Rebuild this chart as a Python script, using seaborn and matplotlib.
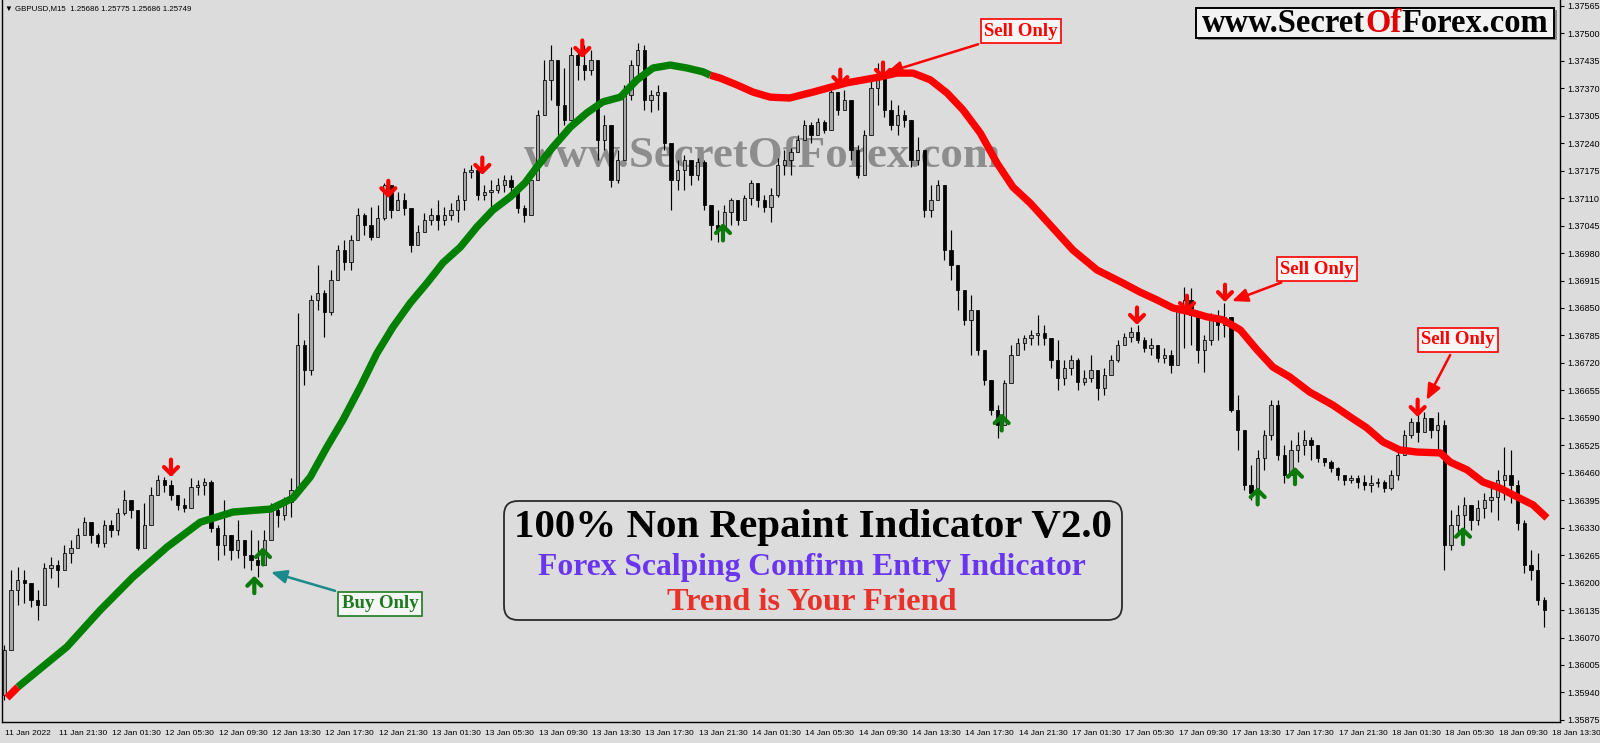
import numpy as np
import pandas as pd
import matplotlib
matplotlib.use("Agg")
import matplotlib.pyplot as plt
import seaborn as sns
from matplotlib.patches import FancyBboxPatch, Rectangle
from matplotlib.transforms import IdentityTransform, offset_copy

# ---------------- data (GBPUSD, 30-minute candles) ----------------
first_open = 1.35934
close = [
    1.36040, 1.36183, 1.36206, 1.36199, 1.36159, 1.36147, 1.36235, 1.36242, 1.36230, 1.36270,
    1.36282, 1.36313, 1.36343, 1.36313, 1.36294, 1.36336, 1.36325, 1.36365, 1.36396, 1.36372,
    1.36282, 1.36336, 1.36407, 1.36443, 1.36431, 1.36407, 1.36384, 1.36377, 1.36426, 1.36431,
    1.36438, 1.36329, 1.36289, 1.36313, 1.36277, 1.36301, 1.36265, 1.36254, 1.36242, 1.36301,
    1.36372, 1.36360, 1.36391, 1.36419, 1.36762, 1.36703, 1.36869, 1.36886, 1.36841, 1.36916,
    1.36987, 1.36959, 1.37011, 1.37070, 1.37046, 1.37018, 1.37063, 1.37141, 1.37082, 1.37106,
    1.37087, 1.36999, 1.37030, 1.37058, 1.37070, 1.37058, 1.37070, 1.37082, 1.37106, 1.37172,
    1.37177, 1.37117, 1.37125, 1.37129, 1.37141, 1.37153, 1.37136, 1.37087, 1.37070, 1.37153,
    1.37307, 1.37390, 1.37437, 1.37330, 1.37295, 1.37449, 1.37425, 1.37413, 1.37437, 1.37248,
    1.37283, 1.37153, 1.37200, 1.37354, 1.37425, 1.37461, 1.37342, 1.37354, 1.37361, 1.37240,
    1.37153, 1.37177, 1.37200, 1.37165, 1.37196, 1.37094, 1.37046, 1.37035, 1.37077, 1.37106,
    1.37058, 1.37110, 1.37146, 1.37106, 1.37089, 1.37117, 1.37188, 1.37200, 1.37219, 1.37248,
    1.37283, 1.37259, 1.37290, 1.37271, 1.37361, 1.37319, 1.37342, 1.37224, 1.37165, 1.37259,
    1.37371, 1.37401, 1.37319, 1.37283, 1.37307, 1.37295, 1.37200, 1.37224, 1.37082, 1.37106,
    1.37141, 1.36987, 1.36952, 1.36893, 1.36822, 1.36845, 1.36751, 1.36680, 1.36609, 1.36573,
    1.36672, 1.36739, 1.36767, 1.36779, 1.36786, 1.36791, 1.36779, 1.36727, 1.36684, 1.36708,
    1.36727, 1.36675, 1.36684, 1.36703, 1.36661, 1.36691, 1.36727, 1.36762, 1.36781, 1.36793,
    1.36774, 1.36755, 1.36762, 1.36732, 1.36739, 1.36715, 1.36845, 1.36869, 1.36833, 1.36751,
    1.36774, 1.36822, 1.36810, 1.36829, 1.36609, 1.36561, 1.36431, 1.36412, 1.36495, 1.36549,
    1.36620, 1.36502, 1.36455, 1.36514, 1.36526, 1.36538, 1.36526, 1.36495, 1.36485, 1.36471,
    1.36455, 1.36443, 1.36448, 1.36438, 1.36431, 1.36436, 1.36438, 1.36424, 1.36455, 1.36502,
    1.36549, 1.36580, 1.36556, 1.36590, 1.36561, 1.36573, 1.36289, 1.36336, 1.36360, 1.36384,
    1.36348, 1.36377, 1.36396, 1.36403, 1.36443, 1.36455, 1.36431, 1.36341, 1.36242, 1.36230,
    1.36159, 1.36135,
]
high = [
    1.36052, 1.36230, 1.36237, 1.36230, 1.36199, 1.36183, 1.36246, 1.36261, 1.36254, 1.36289,
    1.36301, 1.36329, 1.36355, 1.36336, 1.36317, 1.36348, 1.36348, 1.36377, 1.36419, 1.36384,
    1.36360, 1.36388, 1.36426, 1.36455, 1.36450, 1.36443, 1.36407, 1.36400, 1.36448, 1.36443,
    1.36448, 1.36443, 1.36336, 1.36396, 1.36313, 1.36348, 1.36301, 1.36325, 1.36301, 1.36325,
    1.36388, 1.36384, 1.36403, 1.36448, 1.36838, 1.36774, 1.36881, 1.36952, 1.36893, 1.36940,
    1.36999, 1.37011, 1.37023, 1.37087, 1.37075, 1.37089, 1.37094, 1.37146, 1.37117, 1.37125,
    1.37122, 1.37082, 1.37046, 1.37075, 1.37087, 1.37106, 1.37089, 1.37098, 1.37117, 1.37181,
    1.37188, 1.37172, 1.37141, 1.37153, 1.37158, 1.37165, 1.37165, 1.37141, 1.37094, 1.37165,
    1.37319, 1.37437, 1.37473, 1.37425, 1.37418, 1.37468, 1.37461, 1.37473, 1.37461, 1.37437,
    1.37307, 1.37283, 1.37224, 1.37378, 1.37437, 1.37477, 1.37473, 1.37366, 1.37378, 1.37354,
    1.37224, 1.37200, 1.37212, 1.37188, 1.37205, 1.37200, 1.37094, 1.37082, 1.37094, 1.37110,
    1.37070, 1.37117, 1.37153, 1.37141, 1.37117, 1.37134, 1.37205, 1.37224, 1.37229, 1.37259,
    1.37295, 1.37290, 1.37300, 1.37295, 1.37366, 1.37354, 1.37366, 1.37330, 1.37236, 1.37271,
    1.37390, 1.37430, 1.37413, 1.37342, 1.37330, 1.37319, 1.37283, 1.37255, 1.37188, 1.37141,
    1.37153, 1.37094, 1.37035, 1.36940, 1.36881, 1.36881, 1.36833, 1.36739, 1.36668, 1.36620,
    1.36680, 1.36762, 1.36779, 1.36786, 1.36798, 1.36833, 1.36810, 1.36774, 1.36774, 1.36727,
    1.36739, 1.36732, 1.36703, 1.36739, 1.36703, 1.36708, 1.36739, 1.36774, 1.36791, 1.36805,
    1.36810, 1.36781, 1.36779, 1.36762, 1.36755, 1.36751, 1.36857, 1.36900, 1.36897, 1.36822,
    1.36786, 1.36838, 1.36845, 1.36862, 1.36822, 1.36644, 1.36514, 1.36478, 1.36514, 1.36561,
    1.36632, 1.36632, 1.36526, 1.36538, 1.36556, 1.36561, 1.36545, 1.36514, 1.36495, 1.36490,
    1.36474, 1.36455, 1.36455, 1.36455, 1.36455, 1.36455, 1.36448, 1.36443, 1.36467, 1.36514,
    1.36561, 1.36590, 1.36604, 1.36604, 1.36590, 1.36604, 1.36585, 1.36372, 1.36384, 1.36403,
    1.36384, 1.36396, 1.36412, 1.36426, 1.36467, 1.36521, 1.36514, 1.36443, 1.36348, 1.36277,
    1.36270, 1.36166,
]
low = [
    1.35922, 1.36040, 1.36147, 1.36152, 1.36142, 1.36112, 1.36159, 1.36211, 1.36190, 1.36246,
    1.36246, 1.36289, 1.36320, 1.36294, 1.36284, 1.36284, 1.36308, 1.36313, 1.36360, 1.36353,
    1.36277, 1.36317, 1.36360, 1.36419, 1.36414, 1.36396, 1.36372, 1.36367, 1.36396, 1.36407,
    1.36407, 1.36320, 1.36254, 1.36265, 1.36254, 1.36258, 1.36235, 1.36230, 1.36213, 1.36254,
    1.36325, 1.36332, 1.36348, 1.36355, 1.36419, 1.36668, 1.36691, 1.36845, 1.36781, 1.36833,
    1.36933, 1.36940, 1.36940, 1.37011, 1.37023, 1.37011, 1.37035, 1.37058, 1.37063, 1.37082,
    1.37070, 1.36983, 1.36999, 1.37035, 1.37046, 1.37035, 1.37046, 1.37058, 1.37054, 1.37082,
    1.37158, 1.37106, 1.37106, 1.37089, 1.37122, 1.37125, 1.37117, 1.37075, 1.37054, 1.37094,
    1.37224, 1.37307, 1.37342, 1.37259, 1.37283, 1.37354, 1.37390, 1.37390, 1.37401, 1.37200,
    1.37224, 1.37136, 1.37146, 1.37295, 1.37342, 1.37390, 1.37319, 1.37314, 1.37319, 1.37224,
    1.37082, 1.37129, 1.37129, 1.37141, 1.37153, 1.37082, 1.37011, 1.37006, 1.37030, 1.37046,
    1.37046, 1.37070, 1.37094, 1.37089, 1.37077, 1.37054, 1.37113, 1.37165, 1.37165, 1.37224,
    1.37248, 1.37240, 1.37259, 1.37264, 1.37283, 1.37307, 1.37319, 1.37200, 1.37158, 1.37224,
    1.37302, 1.37330, 1.37302, 1.37271, 1.37259, 1.37278, 1.37184, 1.37188, 1.37065, 1.37065,
    1.37106, 1.36964, 1.36916, 1.36845, 1.36810, 1.36739, 1.36739, 1.36668, 1.36597, 1.36542,
    1.36620, 1.36691, 1.36739, 1.36751, 1.36762, 1.36762, 1.36762, 1.36708, 1.36656, 1.36668,
    1.36691, 1.36656, 1.36668, 1.36675, 1.36632, 1.36644, 1.36698, 1.36722, 1.36762, 1.36770,
    1.36767, 1.36746, 1.36739, 1.36722, 1.36720, 1.36696, 1.36755, 1.36755, 1.36762, 1.36720,
    1.36698, 1.36762, 1.36774, 1.36781, 1.36604, 1.36514, 1.36419, 1.36396, 1.36396, 1.36467,
    1.36538, 1.36490, 1.36436, 1.36467, 1.36485, 1.36502, 1.36490, 1.36485, 1.36476, 1.36462,
    1.36443, 1.36431, 1.36436, 1.36424, 1.36419, 1.36414, 1.36426, 1.36414, 1.36419, 1.36443,
    1.36514, 1.36542, 1.36533, 1.36556, 1.36542, 1.36514, 1.36230, 1.36277, 1.36313, 1.36325,
    1.36325, 1.36336, 1.36353, 1.36367, 1.36348, 1.36396, 1.36388, 1.36325, 1.36223, 1.36206,
    1.36147, 1.36095,
]

# trend line (candle position, price) and the two colour switch positions
ma_idx = [0.4, 2.05, 9.4, 14.4, 19.3, 24.4, 29.4, 34.3, 39.9, 43.3,
          45.9, 48.4, 50.8, 53.4, 55.9, 58.3, 60.9, 63.4, 65.8, 68.4,
          70.9, 73.3, 75.9, 78.1, 79.9, 82.3, 84.9, 87.4, 89.8, 92.4,
          94.9, 97.3, 99.9, 102.4, 104.8, 105.9, 107.4, 109.9, 112.3, 114.9,
          117.8, 121.3, 126.4, 131.4, 133.9, 136.3, 138.9, 141.4, 143.8, 146.4,
          148.9, 151.3, 153.9, 156.9, 160.3, 163.9, 167.8, 170.3, 172.9, 175.3,
          177.8, 180.4, 182.8, 185.4, 187.9, 190.3, 192.8, 195.8, 199.3, 201.9,
          204.4, 206.8, 209.3, 211.9, 215.4, 216.9, 219.4, 221.8, 224.3, 226.9,
          229.3, 231.4]
ma_val = [1.35927, 1.35953, 1.36048, 1.36135, 1.36213, 1.36284, 1.36343, 1.36367, 1.36374, 1.36400,
          1.36450, 1.36521, 1.36585, 1.36663, 1.36743, 1.36805, 1.36862, 1.36909, 1.36957, 1.36994,
          1.37042, 1.37082, 1.37113, 1.37146, 1.37184, 1.37231, 1.37278, 1.37312, 1.37338, 1.37349,
          1.37390, 1.37418, 1.37425, 1.37418, 1.37409, 1.37401, 1.37394, 1.37378, 1.37361, 1.37349,
          1.37347, 1.37361, 1.37383, 1.37397, 1.37406, 1.37406, 1.37390, 1.37359, 1.37319, 1.37264,
          1.37193, 1.37136, 1.37098, 1.37046, 1.36987, 1.36940, 1.36909, 1.36888, 1.36869, 1.36850,
          1.36841, 1.36829, 1.36822, 1.36798, 1.36751, 1.36710, 1.36687, 1.36651, 1.36620, 1.36592,
          1.36566, 1.36533, 1.36514, 1.36509, 1.36507, 1.36485, 1.36467, 1.36438, 1.36424, 1.36403,
          1.36384, 1.36353]
ma_switch = [2.05, 105.9]

# signal arrows (candle position, price at the arrow tip)
sell_idx = [25.0, 57.6, 71.7, 86.7, 125.4, 131.8, 169.9, 177.4, 183.1, 212.0]
sell_price = [1.36450, 1.37110, 1.37165, 1.37442, 1.37373, 1.37390, 1.36810, 1.36838, 1.36864, 1.36592]
buy_idx = [37.5, 38.8, 107.8, 149.6, 188.0, 193.6, 218.8]
buy_price = [1.36216, 1.36284, 1.37051, 1.36601, 1.36426, 1.36474, 1.36332]

tick_labels = ["11 Jan 2022", "11 Jan 21:30", "12 Jan 01:30", "12 Jan 05:30", "12 Jan 09:30",
               "12 Jan 13:30", "12 Jan 17:30", "12 Jan 21:30", "13 Jan 01:30", "13 Jan 05:30",
               "13 Jan 09:30", "13 Jan 13:30", "13 Jan 17:30", "13 Jan 21:30", "14 Jan 01:30",
               "14 Jan 05:30", "14 Jan 09:30", "14 Jan 13:30", "14 Jan 17:30", "14 Jan 21:30",
               "17 Jan 01:30", "17 Jan 05:30", "17 Jan 09:30", "17 Jan 13:30", "17 Jan 17:30",
               "17 Jan 21:30", "18 Jan 01:30", "18 Jan 05:30", "18 Jan 09:30", "18 Jan 13:30"]
candles_per_label = 8
price_ticks = [1.35875, 1.35940, 1.36005, 1.36070, 1.36135, 1.36200, 1.36265, 1.36330, 1.36395,
               1.36460, 1.36525, 1.36590, 1.36655, 1.36720, 1.36785, 1.36850, 1.36915, 1.36980,
               1.37045, 1.37110, 1.37175, 1.37240, 1.37305, 1.37370, 1.37435, 1.37500, 1.37565]

header = "\u25BC GBPUSD,M15  1.25686 1.25775 1.25686 1.25749"
site = "www.SecretOfForex.com"
title_lines = ["100% Non Repaint Indicator V2.0",
               "Forex Scalping Confirm Entry Indicator",
               "Trend is Your Friend"]

assert len(close) == len(high) == len(low)
assert len(ma_idx) == len(ma_val)

# ---------------- style ----------------
sns.set_theme(style="white")
plt.rcParams['font.family'] = ['Liberation Sans', 'DejaVu Sans']

W, H, DPI = 1600, 743, 100
BG = '#dcdcdc'
RED = '#ff0000'
GREEN = '#008000'
ID = IdentityTransform()

fig = plt.figure(figsize=(W / DPI, H / DPI), dpi=DPI, facecolor=BG)
ax = fig.add_axes([2 / W, 21 / H, 1558 / W, 722 / H])
ax.set_facecolor(BG)

# ---------------- candles ----------------
c = np.array(close)
o = np.concatenate([[first_open], c[:-1]])
hi = np.array(high)
lo = np.array(low)
pos = np.arange(len(c))
up = c >= o
bot = np.minimum(o, c)
top = np.maximum(o, c)
bh = np.maximum(top - bot, 0.00003)
ax.vlines(pos, np.minimum(lo, bot), np.maximum(hi, top), color='black', lw=0.85, zorder=2)
ax.bar(pos[up], bh[up], bottom=bot[up], width=0.5, color='#a6a6a6',
       edgecolor='black', linewidth=0.55, zorder=3)
ax.bar(pos[~up], bh[~up], bottom=bot[~up], width=0.5, color='black',
       edgecolor='black', linewidth=0.55, zorder=3)

# ---------------- trend line ----------------
ma = pd.DataFrame({'idx': ma_idx, 'val': ma_val})
segments = [(ma_idx[0], ma_switch[0], RED), (ma_switch[0], ma_switch[1], GREEN),
            (ma_switch[1], ma_idx[-1], RED)]
for a, b, col in segments:
    d = ma[(ma['idx'] >= a) & (ma['idx'] <= b)]
    sns.lineplot(data=d, x='idx', y='val', color=col, linewidth=5.3, ax=ax, sort=False,
                 estimator=None, legend=False, zorder=4, solid_capstyle='butt')

# ---------------- signal arrows ----------------
for i, p in zip(sell_idx, sell_price):
    ax.annotate('', xy=(i, p), xytext=(0, 12.5), textcoords='offset points',
                arrowprops=dict(arrowstyle='->,head_width=0.42,head_length=0.42', color=RED,
                                lw=3.0, shrinkA=0, shrinkB=0), zorder=6)
for i, p in zip(buy_idx, buy_price):
    ax.annotate('', xy=(i, p), xytext=(0, -12.5), textcoords='offset points',
                arrowprops=dict(arrowstyle='->,head_width=0.42,head_length=0.42', color='#0b7a0b',
                                lw=3.0, shrinkA=0, shrinkB=0), zorder=6)

# ---------------- axes ----------------
ax.set_xlim(-0.345, 233.35)
ax.set_ylim(1.35870, 1.37579)
ax.set_xlabel('')
ax.set_ylabel('')
ax.set_xticks(np.arange(len(tick_labels)) * candles_per_label)
ax.set_xticklabels(tick_labels, fontsize=6, ha='left')
ax.set_yticks(price_ticks)
ax.set_yticklabels([f"{v:.5f}" for v in price_ticks], fontsize=6.5)
ax.yaxis.tick_right()
ax.tick_params(axis='x', direction='out', length=4, width=0.8, pad=2, colors='black')
ax.tick_params(axis='y', direction='out', length=3, width=0.8, pad=2, colors='black')
for lbl in ax.get_xticklabels():
    lbl.set_transform(lbl.get_transform() + matplotlib.transforms.Affine2D().translate(1, 0))
for s in ['left', 'right', 'bottom']:
    ax.spines[s].set_visible(True)
    ax.spines[s].set_color('black')
    ax.spines[s].set_linewidth(1.0)
ax.spines['top'].set_visible(False)

# ---------------- texts ----------------
SERIF = ['Liberation Serif', 'DejaVu Serif']

wm = ax.text(763, H - 156, site, transform=ID, ha='center', va='center', family=SERIF,
             fontweight='bold', fontsize=30, color='#808080', alpha=0.85, zorder=1)

hdr = fig.text(5, H - 9, header, transform=ID, ha='left', va='center', fontsize=6.5,
               family=['Liberation Sans', 'DejaVu Sans'], color='black')

# central box
fig.add_artist(FancyBboxPatch((504, H - 620), 618, 119,
                              boxstyle='round,pad=0,rounding_size=14', transform=ID,
                              fc='none', ec='#2a2a2a', lw=1.3))
t1 = fig.text(813, H - 527, title_lines[0], transform=ID, ha='center', va='center',
              family=SERIF, fontweight='bold', fontsize=26, color='black')
t2 = fig.text(812, H - 567, title_lines[1], transform=ID, ha='center', va='center',
              family=SERIF, fontweight='bold', fontsize=20, color='#6a35f0')
t3 = fig.text(812, H - 602, title_lines[2], transform=ID, ha='center', va='center',
              family=SERIF, fontweight='bold', fontsize=20, color='#e8312a')

# logo box
fig.add_artist(Rectangle((1198, H - 40), 359, 30, transform=ID, fc='#8a8a8a', ec='none'))
fig.add_artist(Rectangle((1196, H - 38), 358, 30, transform=ID, fc='#f2f2f2',
                         ec='black', lw=1.4))
logo_parts = [("www.Secret", 'black'), ("Of", '#e00000'), ("Forex.com", 'black')]
logo_texts = [fig.text(0, H - 24, s, transform=ID, ha='left', va='center', family=SERIF,
                       fontweight='bold', fontsize=20, color=col) for s, col in logo_parts]

# annotations
box_kw = dict(boxstyle='square,pad=0.18', fc='#f6f6f6', lw=1.2)
annots = [("Sell Only", (1021, 31), sell_idx[5], sell_price[5], (3, 7), RED, RED),
          ("Sell Only", (1317, 269), sell_idx[8], sell_price[8], (7, 1), RED, RED),
          ("Sell Only", (1458, 340), sell_idx[9], sell_price[9], (9, 17), RED, RED),
          ("Buy Only", (380, 604), buy_idx[1], buy_price[1], (8, -25), '#1e7a1e', '#1a8a8a')]
for txt, (cx, cy), xi, yp, (dx, dy), col, acol in annots:
    tr = offset_copy(ax.transData, fig=fig, x=dx, y=dy, units='dots')
    ax.annotate(txt, xy=(xi, yp), xycoords=tr, xytext=(cx, H - cy), textcoords=ID,
                ha='center', va='center', family=SERIF, fontweight='bold', fontsize=13.5,
                color=col, bbox=dict(ec=col, **box_kw), annotation_clip=False,
                arrowprops=dict(arrowstyle='-|>,head_width=0.3,head_length=0.7', color=acol,
                                lw=1.8, shrinkA=2, shrinkB=0), zorder=8)

# ---------------- fit text widths ----------------
fig.canvas.draw()
rend = fig.canvas.get_renderer()


def fit(t, target):
    for _ in range(3):
        w = t.get_window_extent(rend).width
        t.set_fontsize(t.get_fontsize() * target / w)


fit(t1, 600)
fit(t2, 550)
fit(t3, 290)
fit(wm, 477)
fit(hdr, 186)

for _ in range(3):
    total = sum(t.get_window_extent(rend).width for t in logo_texts)
    for t in logo_texts:
        t.set_fontsize(t.get_fontsize() * 346 / total)
widths = [t.get_window_extent(rend).width for t in logo_texts]
x0 = 1375 - sum(widths) / 2
for t, w in zip(logo_texts, widths):
    t.set_x(x0)
    x0 += w

fig.savefig('out.png', dpi=DPI, facecolor=BG)
